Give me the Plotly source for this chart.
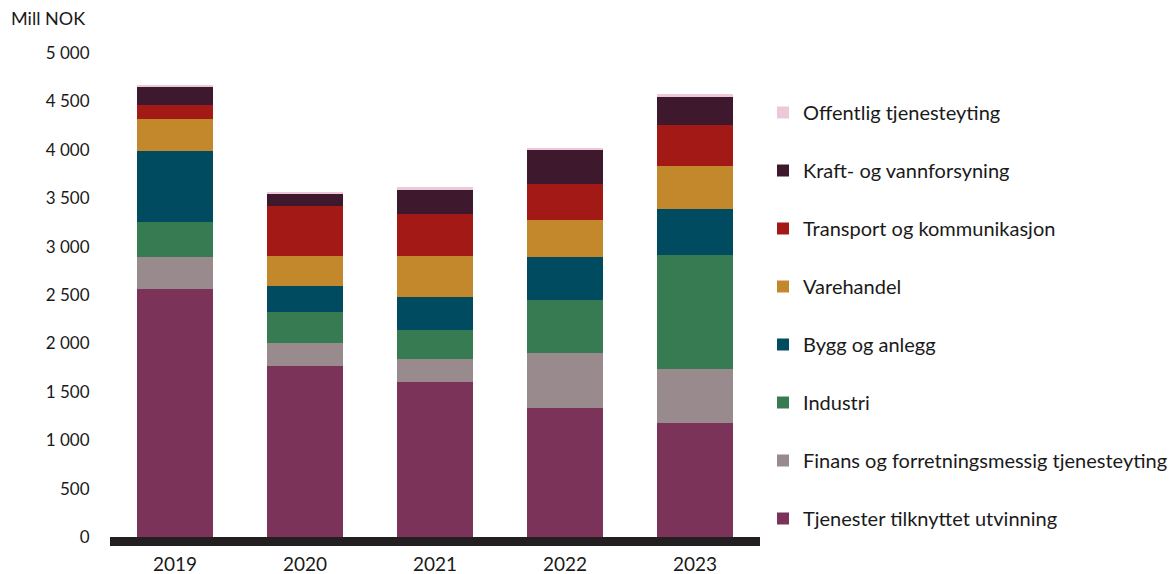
import plotly.graph_objects as go

years = ["2019", "2020", "2021", "2022", "2023"]

tjenester = [2560, 1770, 1601, 1329, 1174]
finans = [334, 238, 238, 568, 558]
industri = [358, 313, 300, 555, 1185]
bygg = [733, 272, 337, 441, 468]
varehandel = [331, 313, 430, 382, 451]
transport = [145, 513, 430, 372, 420]
kraft = [192, 131, 255, 348, 286]
offentlig = [10, 15, 20, 24, 34]

series_names = [
    "Tjenester tilknyttet utvinning",
    "Finans og forretningsmessig tjenesteyting",
    "Industri",
    "Bygg og anlegg",
    "Varehandel",
    "Transport og kommunikasjon",
    "Kraft- og vannforsyning",
    "Offentlig tjenesteyting",
]
series_values = [tjenester, finans, industri, bygg, varehandel, transport, kraft, offentlig]
series_colors = ["#7B3359", "#998A8E", "#377B53", "#004B5F", "#C4882C", "#A21916", "#3E182C", "#EDC8DA"]

y_tickvals = [0, 500, 1000, 1500, 2000, 2500, 3000, 3500, 4000, 4500, 5000]
y_ticktext = ["0", "500", "1 000", "1 500", "2 000", "2 500", "3 000", "3 500", "4 000", "4 500", "5 000"]

W, H = 1172, 574
L, R, T, B = 110, 412, 53, 37
FONT = "Lato"
TXT = "#1a1a1a"

fig = go.Figure()
n = len(series_names)
for i, (name, vals, col) in enumerate(zip(series_names, series_values, series_colors)):
    fig.add_trace(go.Bar(
        x=years, y=vals, name=name, legendgroup=name,
        legendrank=n - i,
        marker=dict(color=col, line=dict(width=0)),
    ))

fig.update_layout(
    width=W, height=H,
    margin=dict(l=L, r=R, t=T, b=B, pad=0, autoexpand=False),
    barmode="stack", bargap=0.42,
    plot_bgcolor="white", paper_bgcolor="white",
    font=dict(family=FONT, size=18, color=TXT),
    showlegend=True,
    legend=dict(
        traceorder="grouped",
        tracegroupgap=29,
        xref="container", yref="container",
        x=763 / W, xanchor="left",
        y=1 - 93 / H, yanchor="top",
        maxheight=1000,
        font=dict(family=FONT, size=20, color=TXT),
        bgcolor="rgba(0,0,0,0)",
        itemclick=False,
    ),
    xaxis=dict(
        type="category",
        showline=True, linecolor="#231F20", linewidth=9,
        ticks="", showgrid=False, zeroline=False,
        tickfont=dict(family=FONT, size=19, color=TXT),
        ticklabelstandoff=2,
        automargin=False,
    ),
    yaxis=dict(
        range=[0, 5000], tickvals=y_tickvals, ticktext=y_ticktext,
        showline=False, showgrid=False, zeroline=False,
        ticks="outside", ticklen=16, tickcolor="rgba(0,0,0,0)",
        tickfont=dict(family=FONT, size=17, color=TXT),
        automargin=False,
    ),
    annotations=[dict(
        text="Mill NOK", xref="paper", yref="paper",
        x=(9 - L) / (W - L - R), y=1 + (T - 18) / (H - T - B),
        xanchor="left", yanchor="middle", showarrow=False,
        font=dict(family=FONT, size=18, color=TXT),
    )],
)

fig.write_html(
    "out.html",
    config={"displayModeBar": False},
    post_script="document.body.style.margin='0';document.body.style.overflow='hidden';",
)
